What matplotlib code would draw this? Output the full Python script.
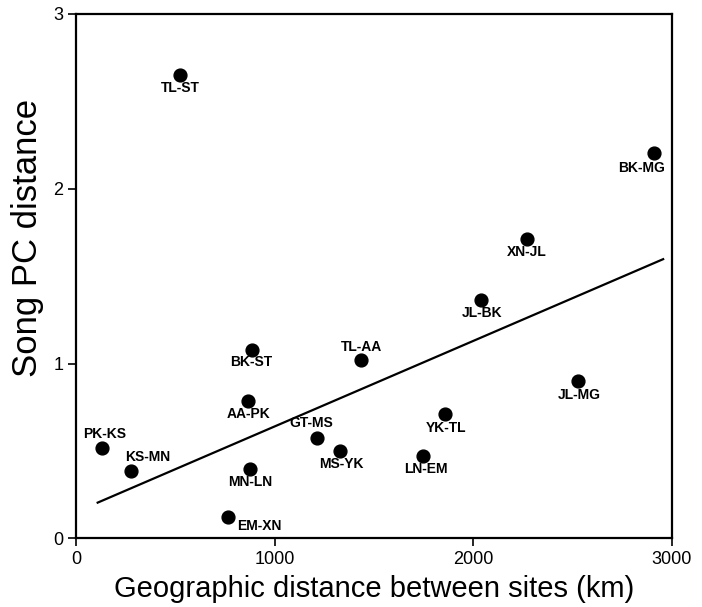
import matplotlib
matplotlib.use('Agg')
import matplotlib.pyplot as plt
import numpy as np

plt.rcParams['font.family'] = ['Liberation Sans', 'DejaVu Sans']

# pairs of sites: geographic distance (km) vs song PC distance
pairs = ['TL-ST', 'BK-MG', 'XN-JL', 'JL-BK', 'BK-ST', 'TL-AA', 'JL-MG', 'AA-PK',
         'YK-TL', 'GT-MS', 'PK-KS', 'MS-YK', 'LN-EM', 'MN-LN', 'KS-MN', 'EM-XN']
geo_km = [524, 2910, 2272, 2038, 884, 1434, 2527, 868,
          1858, 1215, 129, 1329, 1749, 876, 275, 767]
song_pc = [2.652, 2.204, 1.713, 1.362, 1.079, 1.019, 0.900, 0.786,
           0.711, 0.576, 0.515, 0.500, 0.471, 0.395, 0.385, 0.120]

# label offsets in pixels (dx, dy) relative to the point
label_off = [(0, -13), (-12, -15), (0, -13), (1, -13), (0, -12), (1, 13), (2, -14), (0, -13),
             (1, -14), (-6, 15), (3, 14), (1, -13), (3, -13), (0, -13), (17, 14), (31, -9)]

# regression line end points
fit_x = [109, 2957]
fit_y = [0.204, 1.597]

fig = plt.figure(figsize=(7.02, 6.07), dpi=100)
ax = fig.add_axes([0.1083, 0.1132, 0.8485, 0.8638])

ax.plot(fit_x, fit_y, '-', color='black', lw=1.6, zorder=2)
ax.scatter(geo_km, song_pc, s=85, color='black', zorder=3)

for name, x, y, off in zip(pairs, geo_km, song_pc, label_off):
    ax.annotate(name, (x, y), xytext=off, textcoords='offset pixels',
                ha='center', va='center', fontsize=10, fontweight='bold')

ax.set_xlim(0, 3000)
ax.set_ylim(0, 3)
ax.set_xticks([0, 1000, 2000, 3000])
ax.set_yticks([0, 1, 2, 3])
ax.tick_params(direction='out', length=6, width=1.2, labelsize=13, pad=3)
for sp in ax.spines.values():
    sp.set_linewidth(1.6)

ax.set_xlabel('Geographic distance between sites (km)', fontsize=21, labelpad=5)
ax.set_ylabel('Song PC distance', fontsize=25)
ax.yaxis.set_label_coords(-0.053, 0.573)

fig.savefig('out.png', dpi=100)
